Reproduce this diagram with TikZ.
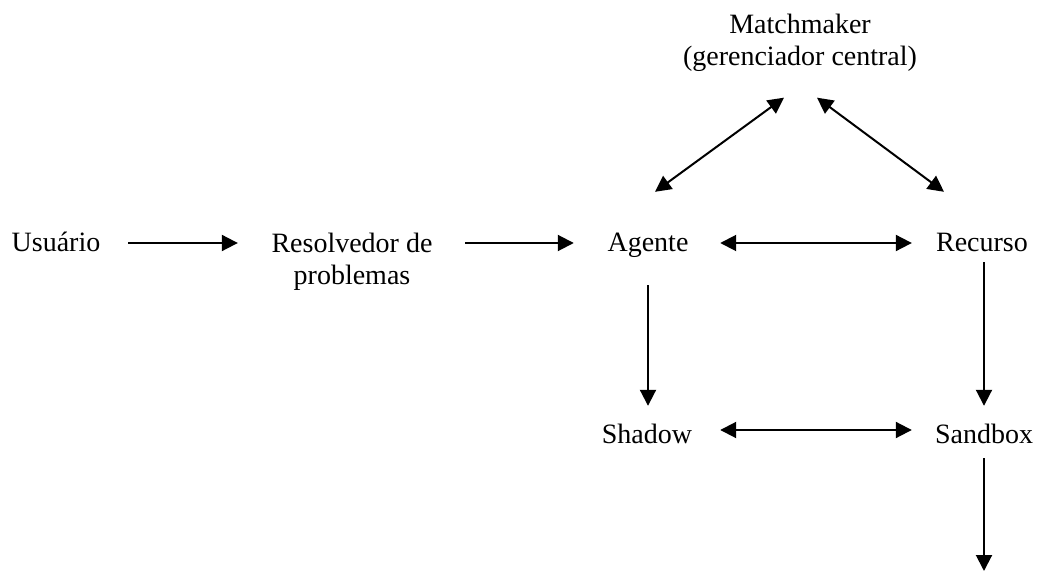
\documentclass[tikz,border=0pt]{standalone}
\usepackage{fontspec}
\setmainfont{Liberation Serif}
\usetikzlibrary{arrows.meta}

\begin{document}
\begin{tikzpicture}
	[x=1pt,y=-1pt,
	 every node/.style={inner sep=0,font=\fontsize{28pt}{32.2pt}\selectfont},
	 single/.style={text height=20pt,text depth=2pt},
	 connect/.style={line width=2pt,-{Triangle[length=16pt,width=16pt]}},
	 both/.style={connect,{Triangle[length=16pt,width=16pt]}-{Triangle[length=16pt,width=16pt]}}]
	\useasboundingbox (0,0) rectangle (1037,572);
	\node (usuario) [single] at (56,243) {Usuário};
	\node (resolvedor) [align=center] at (352,262) {Resolvedor de\\problemas};
	\node (agente) [single] at (648,243) {Agente};
	\node (recurso) [single] at (982,243) {Recurso};
	\node (matchmaker) [align=center,anchor=north] at (800,14) {Matchmaker\\(gerenciador central)};
	\node (shadow) [single] at (647,434) {Shadow};
	\node (sandbox) [single] at (984,434) {Sandbox};
	\coordinate (saida) at (984,571);

	\draw [connect,shorten <=27.7pt,shorten >=33.5pt] (usuario.east) -- (usuario.east -| resolvedor.west);
	\draw [connect,shorten <=32.5pt,shorten >=33.6pt] (usuario.east -| resolvedor.east) -- (agente.west);
	\draw [both,shorten <=31.6pt,shorten >=24.1pt] (agente.east) -- (recurso.west);
	\draw [both] ([xshift=7pt,yshift=40pt]agente.north) -- ([xshift=-16pt,yshift=-25.6pt]matchmaker.south);
	\draw [both] ([xshift=-38pt,yshift=40pt]recurso.north) -- ([xshift=17pt,yshift=-25.6pt]matchmaker.south);
	\draw [connect,shorten <=31pt,shorten >=17pt] (agente.south) -- (agente.south |- shadow.north);
	\draw [connect,shorten <=8pt,shorten >=17pt] (recurso.south -| sandbox.north) -- (sandbox.north);
	\draw [both,shorten <=27.9pt,shorten >=23pt] ([yshift=4pt]shadow.east) -- ([yshift=4pt]sandbox.west);
	\draw [connect,shorten <=13pt] (sandbox.south) -- (saida);
\end{tikzpicture}
\end{document}
